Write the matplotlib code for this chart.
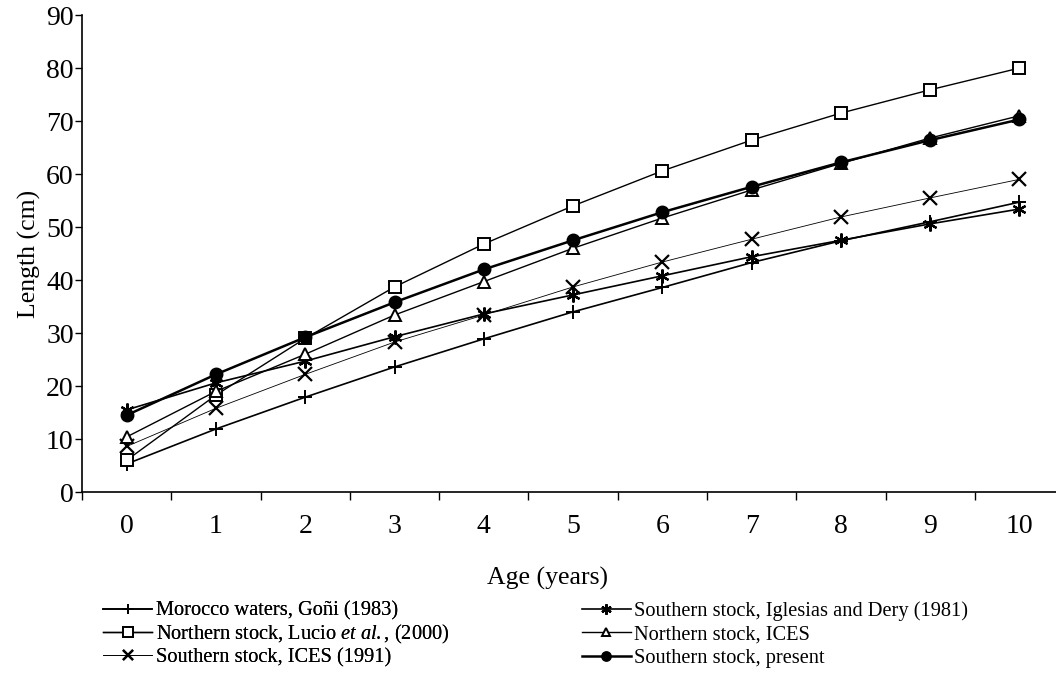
import numpy as np
import matplotlib
matplotlib.use("Agg")
import matplotlib.pyplot as plt

plt.rcParams['font.family'] = ['Liberation Serif', 'DejaVu Serif']
plt.rcParams['mathtext.fontset'] = 'custom'
plt.rcParams['mathtext.it'] = 'Liberation Serif:italic'
plt.rcParams['mathtext.rm'] = 'Liberation Serif'

ages = np.arange(0, 11)

# mean length at age (cm)
morocco_goni = [5.3, 11.9, 17.9, 23.6, 28.9, 34.0, 38.6, 43.3, 47.4, 51.0, 54.7]
north_lucio = [6.0, 18.3, 29.0, 38.7, 46.8, 54.0, 60.6, 66.4, 71.5, 75.9, 80.0]
south_ices = [8.6, 15.8, 22.2, 28.3, 33.4, 38.7, 43.4, 47.7, 51.9, 55.5, 59.0]
south_iglesias = [15.5, 20.6, 24.7, 29.3, 33.6, 37.2, 40.8, 44.4, 47.5, 50.6, 53.4]
north_ices = [10.4, 19.0, 26.0, 33.4, 39.7, 46.0, 51.7, 57.0, 62.0, 66.8, 71.0]
south_present = [14.5, 22.2, 29.2, 35.8, 42.0, 47.5, 52.8, 57.6, 62.2, 66.4, 70.3]

fig = plt.figure(figsize=(10.56, 6.78), dpi=100)
ax = fig.add_axes([0.0777, 0.2743, 0.930, 0.7035])

k = 'black'
l1, = ax.plot(ages, morocco_goni, color=k, lw=1.2, marker='+', ms=10, mew=1.4,
              label='Morocco waters, Goñi (1983)')
l2, = ax.plot(ages, north_lucio, color=k, lw=1.0, marker='s', ms=9, mew=1.4,
              mfc='white', label=r'Northern stock, Lucio $\it{et\ al.}$, (2000)')
l3, = ax.plot(ages, south_ices, color=k, lw=0.6, marker='x', ms=10, mew=1.6,
              label='Southern stock, ICES (1991)')
l4, = ax.plot(ages, south_iglesias, color=k, lw=1.2, marker=(6, 2, 0), ms=10, mew=1.6,
              label='Southern stock, Iglesias and Dery (1981)')
l5, = ax.plot(ages, north_ices, color=k, lw=1.0, marker='^', ms=8, mew=1.4,
              mfc='white', label='Northern stock, ICES')
l6, = ax.plot(ages, south_present, color=k, lw=1.8, marker='o', ms=9,
              label='Southern stock, present')

ax.set_xlim(-0.5, 10.5)
ax.set_ylim(0, 90)
ax.set_yticks(np.arange(0, 91, 10))
ax.set_xticks(np.arange(-0.5, 10.0, 1.0))
ax.set_xticklabels([])
ax.set_xticks(ages, minor=True)
ax.set_xticklabels([str(a) for a in ages], minor=True)
ax.tick_params(axis='x', which='major', direction='out', length=6, width=1)
ax.tick_params(axis='x', which='minor', length=0, pad=16, labelsize=20)
ax.tick_params(axis='y', direction='out', length=5, width=1, pad=1, labelsize=20)
for s in ['top', 'right']:
    ax.spines[s].set_visible(False)
for s in ['left', 'bottom']:
    ax.spines[s].set_linewidth(1.2)

ax.set_ylabel('Length (cm)', fontsize=18.5, labelpad=4)
fig.text(0.518, 0.147, 'Age (years)', ha='center', va='center', fontsize=18.5)

# two legend columns, each placed on its own so the rows line up
leg_kw = dict(loc='upper left', frameon=False, fontsize=14.7, handlelength=2.4,
              handletextpad=0.15, borderpad=0, borderaxespad=0, markerscale=0.75)
leg1 = fig.legend(handles=[l1, l2, l3], bbox_to_anchor=(0.098, 0.113),
                  labelspacing=0.1, **leg_kw)
fig.add_artist(leg1)
fig.legend(handles=[l4, l5, l6], bbox_to_anchor=(0.551, 0.113),
           labelspacing=0.2, **leg_kw)

fig.savefig('out.png', dpi=100)
